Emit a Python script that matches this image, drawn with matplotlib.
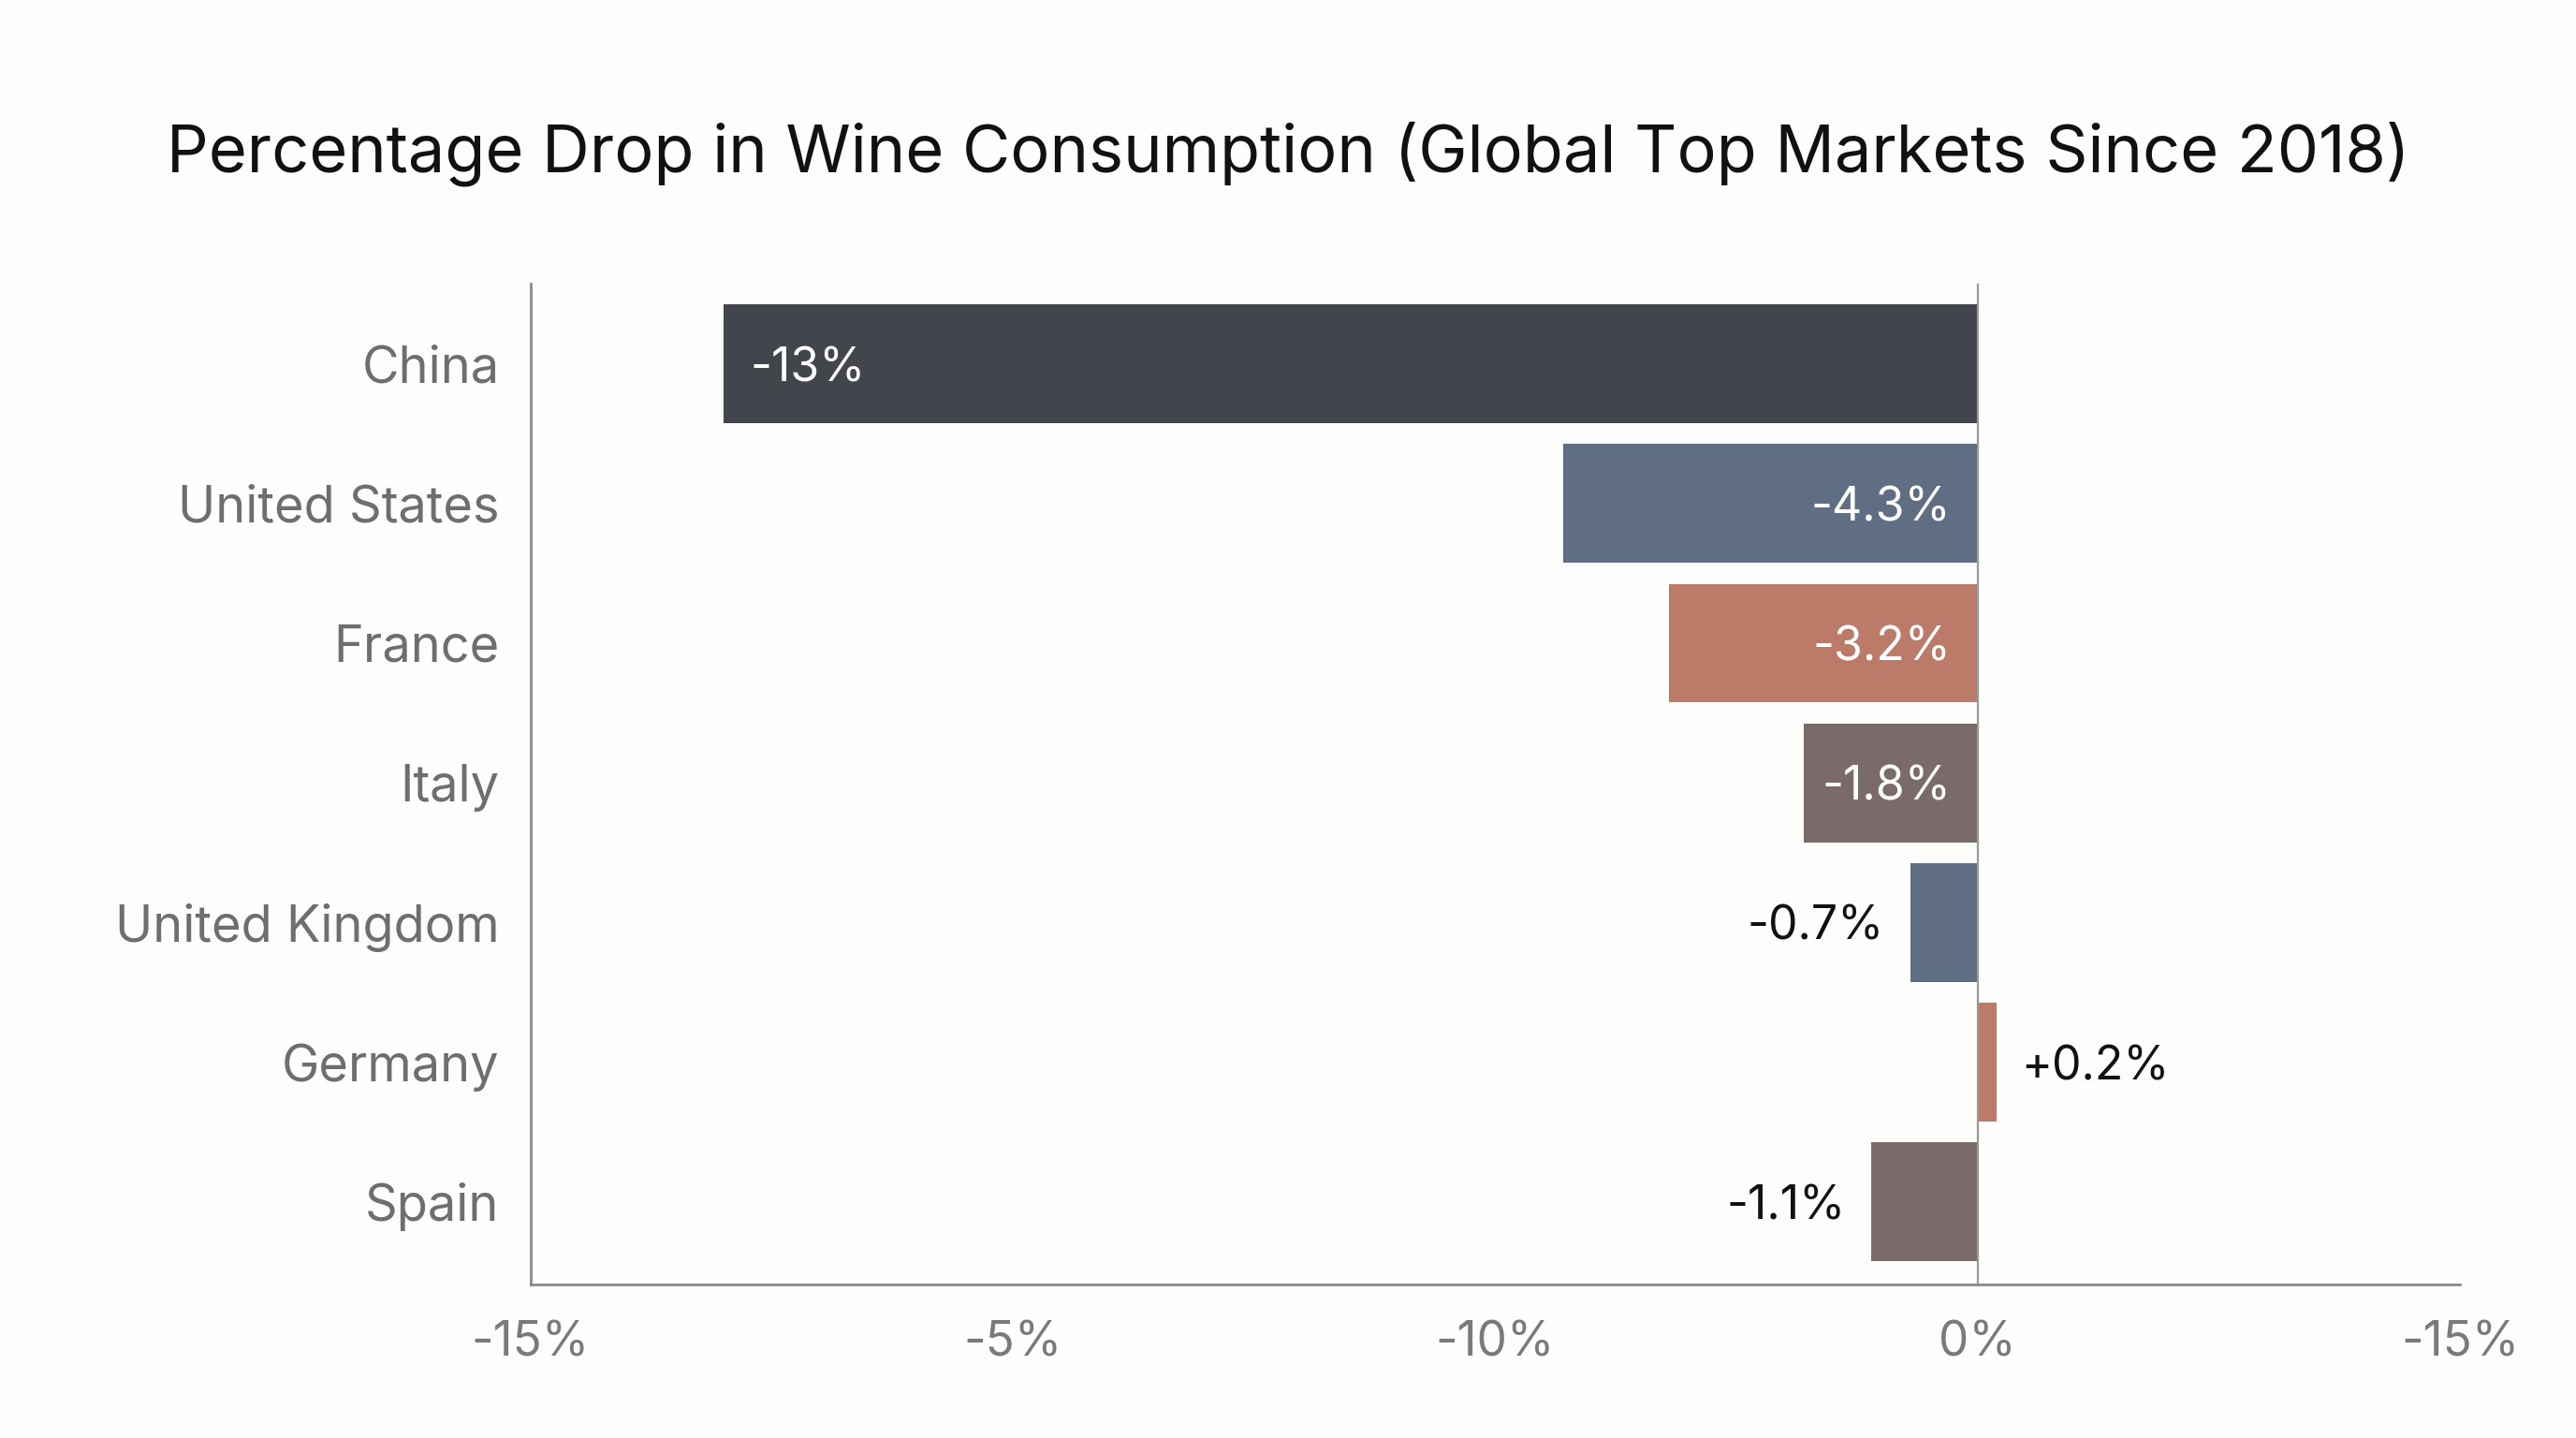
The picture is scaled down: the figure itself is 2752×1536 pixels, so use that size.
import numpy as np
import matplotlib.pyplot as plt

plt.rcParams['font.family'] = ['Inter', 'DejaVu Sans']

countries = ['China', 'United States', 'France', 'Italy', 'United Kingdom', 'Germany', 'Spain']
change = [-13.0, -4.3, -3.2, -1.8, -0.7, 0.2, -1.1]
labels = ['-13%', '-4.3%', '-3.2%', '-1.8%', '-0.7%', '+0.2%', '-1.1%']
colors = ['#42454c', '#5f6e82', '#bb7b68', '#7b6a6a', '#5f6e82', '#bb7b68', '#7b6a6a']
xticks = [-15, -10, -5, 0, 5]
xtick_labels = ['-15%', '-5%', '-10%', '0%', '-15%']

bg = '#fdfdfc'
fig = plt.figure(figsize=(13.76, 7.68), dpi=200, facecolor=bg)
ax = fig.add_axes([0.206, 0.107, 0.749, 0.696], facecolor=bg)

y = np.arange(len(countries))
ax.barh(y, change, height=0.85, color=colors, zorder=2)
ax.set_ylim(6.588, -0.576)
ax.set_xlim(-15, 5)

fs = 18
for i, (v, t) in enumerate(zip(change, labels)):
    if v <= -10:
        ax.text(v + 0.28, i, t, ha='left', va='center_baseline', color='white', fontsize=fs)
    elif v <= -1.5:
        ax.text(-0.28, i, t, ha='right', va='center_baseline', color='white', fontsize=fs)
    elif v < 0:
        ax.text(v - 0.27, i, t, ha='right', va='center_baseline', color='#111111', fontsize=fs)
    else:
        ax.text(v + 0.25, i, t, ha='left', va='center_baseline', color='#111111', fontsize=fs)

ax.axvline(0, color='#999999', lw=0.8, zorder=3)

ax.set_yticks(y)
ax.set_yticklabels(countries, fontsize=19.5, color='#6e6e6e')
ax.set_xticks(xticks)
ax.set_xticklabels(xtick_labels, fontsize=18.5, color='#7a7a7a')
ax.tick_params(axis='both', length=0)
ax.tick_params(axis='y', pad=12)
ax.tick_params(axis='x', pad=14)

for s in ['top', 'right']:
    ax.spines[s].set_visible(False)
for s in ['left', 'bottom']:
    ax.spines[s].set_color('#8a8a8a')
    ax.spines[s].set_linewidth(1.0)

fig.text(0.5, 0.893, 'Percentage Drop in Wine Consumption (Global Top Markets Since 2018)',
         ha='center', va='center', fontsize=25.3, color='#111111')

fig.savefig('out.png', dpi=200, facecolor=bg)
